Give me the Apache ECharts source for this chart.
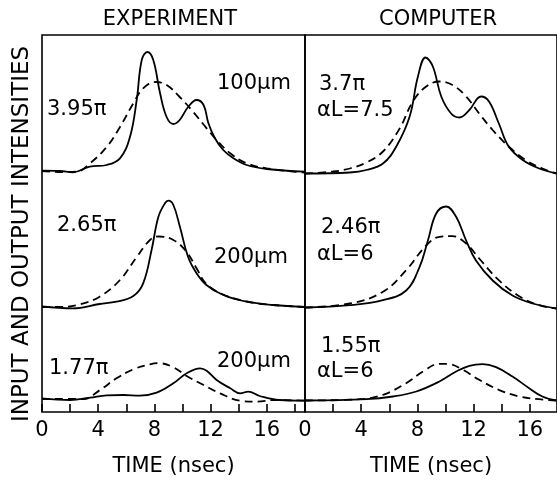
<!DOCTYPE html>
<html>
<head>
<meta charset="utf-8">
<script src="https://cdn.jsdelivr.net/npm/echarts/dist/echarts.min.js"></script>
<style>
  html, body { margin: 0; padding: 0; background: #fff; }
  #chart { width: 557px; height: 482px; }
</style>
</head>
<body>
<div id="chart"></div>
<script>
// time (nsec) vs intensity above baseline (arbitrary units)
const expTopSolid = [[0,0.3],[1.3,0],[2.2,-1.3],[3.4,4.3],[4.6,6],[5.55,12.7],[6.26,34],[6.74,71],[7.1,111],[7.5,119],[7.92,111],[8.4,78],[8.87,54],[9.35,47],[9.8,51],[10.4,64],[11.0,71],[11.5,66],[11.84,48],[12.3,33],[12.9,21],[13.6,13],[14.57,6],[16,2],[18.7,-0.7]]
const expTopDash = [[0,0],[1.5,-1],[2.47,-0.7],[3.42,7.7],[4.6,24],[5.55,44],[6.5,67.7],[7.2,82.7],[8.1,89],[8.87,86],[9.8,74],[10.77,59],[11.72,42.7],[12.43,31],[13.4,17.7],[14.57,7.7],[16,2.7],[18.7,-1.7]]
const expMidSolid = [[0,0.7],[2.2,-1.3],[4.1,3],[5.3,5.3],[6.5,11],[7.2,23.7],[7.8,57],[8.28,90],[8.75,103.7],[9.0,106.3],[9.35,102],[9.82,80],[10.4,50],[11.0,33.7],[11.7,22],[12.9,12],[14.57,5.3],[16.46,2],[18.7,0]]
const expMidDash = [[0,0],[1.3,0],[2.7,2.7],[4.1,10.3],[5.55,27],[6.74,50],[7.69,67],[8.3,70.5],[9.35,67],[10.3,55],[11.0,38.7],[11.7,23],[12.9,12.5],[14.57,5.5],[16.46,2],[18.7,0]]
const expBotSolid = [[0,0.7],[2.0,-1],[3.42,1.3],[4.6,3.7],[5.8,4],[6.97,3.3],[8.16,6.3],[9.35,15.7],[10.3,25.7],[11.25,30.7],[11.72,28.3],[12.43,19],[13.4,10.7],[14.1,5.7],[14.68,7.3],[15.5,3],[16.9,-1],[18.7,-1.7]]
const expBotDash = [[0,0],[2.94,0],[4.13,9],[5.3,20.7],[6.5,29.7],[7.69,34.7],[8.3,35.8],[9.35,31.7],[10.3,23],[11.5,14],[12.67,5.7],[14.1,-1.7],[15.3,-2.7],[16.5,-1],[18.7,-1.7]]

const compTopSolid = [[0,0],[3.19,1],[4.37,3.5],[5.55,10],[6.5,27],[7.45,57],[8.04,97],[8.58,116],[9.1,107],[9.7,77],[10.4,60],[11.0,56],[11.7,63.5],[12.53,77],[13.1,72],[13.8,50],[14.5,27],[15.5,13.5],[16.67,5],[17.9,0]]
const compTopDash = [[0,0],[2.0,2],[3.19,5],[4.37,11],[5.55,22],[6.74,45],[7.68,72],[8.63,87],[9.57,92],[10.5,88.5],[11.47,77],[12.4,60],[13.36,43.5],[14.5,27],[15.7,13.5],[16.9,5],[17.9,0]]
const compMidSolid = [[0,0],[3.19,2.3],[5.55,7.3],[7.2,17],[8.16,40.7],[8.75,67],[9.34,94],[10.05,101],[10.76,90.7],[11.47,67],[12.17,47],[13.36,27],[14.77,12],[16.2,4],[17.9,-1]]
const compMidDash = [[0,0],[3.19,4],[5.55,15.7],[7.2,37.3],[8.63,62],[9.57,70.7],[10.5,71.3],[11.47,64],[12.4,49],[13.8,27.3],[15.25,11.3],[16.67,2.3],[17.9,-1]]
const compBotSolid = [[0,0],[4.37,1.3],[6.26,4],[7.92,9],[9.57,19],[10.76,29],[11.7,34.7],[12.65,36.3],[13.6,33.3],[14.77,24],[15.96,12.3],[16.9,4],[17.9,0]]
const compBotDash = [[0,0],[3.9,1.3],[5.55,5.7],[7.2,17.3],[8.4,29],[9.57,36.7],[10.28,36.3],[11.23,30.7],[12.4,20.7],[13.8,10.7],[15.25,4],[16.67,1.3],[17.9,0]]

const panelTitles = ['EXPERIMENT', 'COMPUTER']
const expLabels = [['3.95π', '100μm'], ['2.65π', '200μm'], ['1.77π', '200μm']]
const compLabels = [['3.7π', 'αL=7.5'], ['2.46π', 'αL=6'], ['1.55π', 'αL=6']]
const xMax = [18.72, 17.94]

const FONT = 'DejaVu Sans'
const INK = '#000'

// layout
const panelLeft = [42, 305]
const panelWidth = [263, 253]
const baselines = [[171, 307, 399], [173.5, 307.5, 400.5]]

const grids = [
  { left: 42, top: 35, width: 263, height: 393, show: true, borderColor: INK, borderWidth: 1.6 },
  { left: 305, top: 35, width: 253, height: 393, show: true, borderColor: INK, borderWidth: 1.6 },
]
const xAxes = []
const yAxes = []
for (let p = 0; p < 2; p++) {
  xAxes.push({
    gridIndex: p,
    type: 'value',
    min: 0,
    max: xMax[p],
    interval: 2,
    name: 'TIME (nsec)',
    nameLocation: 'middle',
    nameGap: 44,
    nameTextStyle: { fontSize: 21, fontFamily: FONT, color: INK },
    axisLine: { show: false },
    axisTick: { show: true, inside: true, length: 8, lineStyle: { color: INK, width: 1.6 } },
    axisLabel: {
      fontSize: 21,
      fontFamily: FONT,
      color: INK,
      margin: 8,
      showMaxLabel: false,
      formatter: function (v) { return v % 4 === 0 ? String(v) : '' },
    },
    splitLine: { show: false },
  })
  yAxes.push({ gridIndex: p, type: 'value', min: 0, max: 1, show: false })
}
for (let p = 0; p < 2; p++) {
  for (let r = 0; r < 3; r++) {
    grids.push({ left: panelLeft[p], top: baselines[p][r] - 130, width: panelWidth[p], height: 140 })
    xAxes.push({ gridIndex: grids.length - 1, type: 'value', min: 0, max: xMax[p], show: false })
    yAxes.push({ gridIndex: grids.length - 1, type: 'value', min: -10, max: 130, show: false })
  }
}

function trace(data, axis, dashed) {
  return {
    type: 'line',
    xAxisIndex: axis,
    yAxisIndex: axis,
    data: data,
    smooth: 0.4,
    showSymbol: false,
    silent: true,
    lineStyle: { color: INK, width: 1.8, type: dashed ? [8, 5] : 'solid' },
  }
}

const series = [
  trace(expTopSolid, 2, false), trace(expTopDash, 2, true),
  trace(expMidSolid, 3, false), trace(expMidDash, 3, true),
  trace(expBotSolid, 4, false), trace(expBotDash, 4, true),
  trace(compTopSolid, 5, false), trace(compTopDash, 5, true),
  trace(compMidSolid, 6, false), trace(compMidDash, 6, true),
  trace(compBotSolid, 7, false), trace(compBotDash, 7, true),
]

function txt(text, x, y, size, align) {
  return {
    type: 'text',
    x: x,
    y: y,
    style: { text: text, fontSize: size, fontFamily: FONT, fill: INK, align: align || 'left', verticalAlign: 'middle' },
  }
}

const graphic = [
  txt(panelTitles[0], 170, 20, 21, 'center'),
  txt(panelTitles[1], 438, 20, 21, 'center'),
  {
    type: 'text',
    x: 22,
    y: 234,
    rotation: Math.PI / 2,
    style: { text: 'INPUT AND OUTPUT INTENSITIES', fontSize: 23, fontFamily: FONT, fill: INK, align: 'center', verticalAlign: 'middle' },
  },
  txt(expLabels[0][0], 47, 110, 21), txt(expLabels[0][1], 217, 84, 21),
  txt(expLabels[1][0], 57, 226, 21), txt(expLabels[1][1], 214, 258, 21),
  txt(expLabels[2][0], 49, 369, 21), txt(expLabels[2][1], 217, 362, 21),
  txt(compLabels[0][0], 319, 85, 21), txt(compLabels[0][1], 317, 111, 21),
  txt(compLabels[1][0], 321, 228, 21), txt(compLabels[1][1], 317, 255, 21),
  txt(compLabels[2][0], 321, 347, 21), txt(compLabels[2][1], 317, 372, 21),
]

const option = {
  animation: false,
  backgroundColor: '#fff',
  grid: grids,
  xAxis: xAxes,
  yAxis: yAxes,
  series: series,
  graphic: graphic,
}

const myChart = echarts.init(document.getElementById('chart'))
myChart.setOption(option)
</script>
</body>
</html>
